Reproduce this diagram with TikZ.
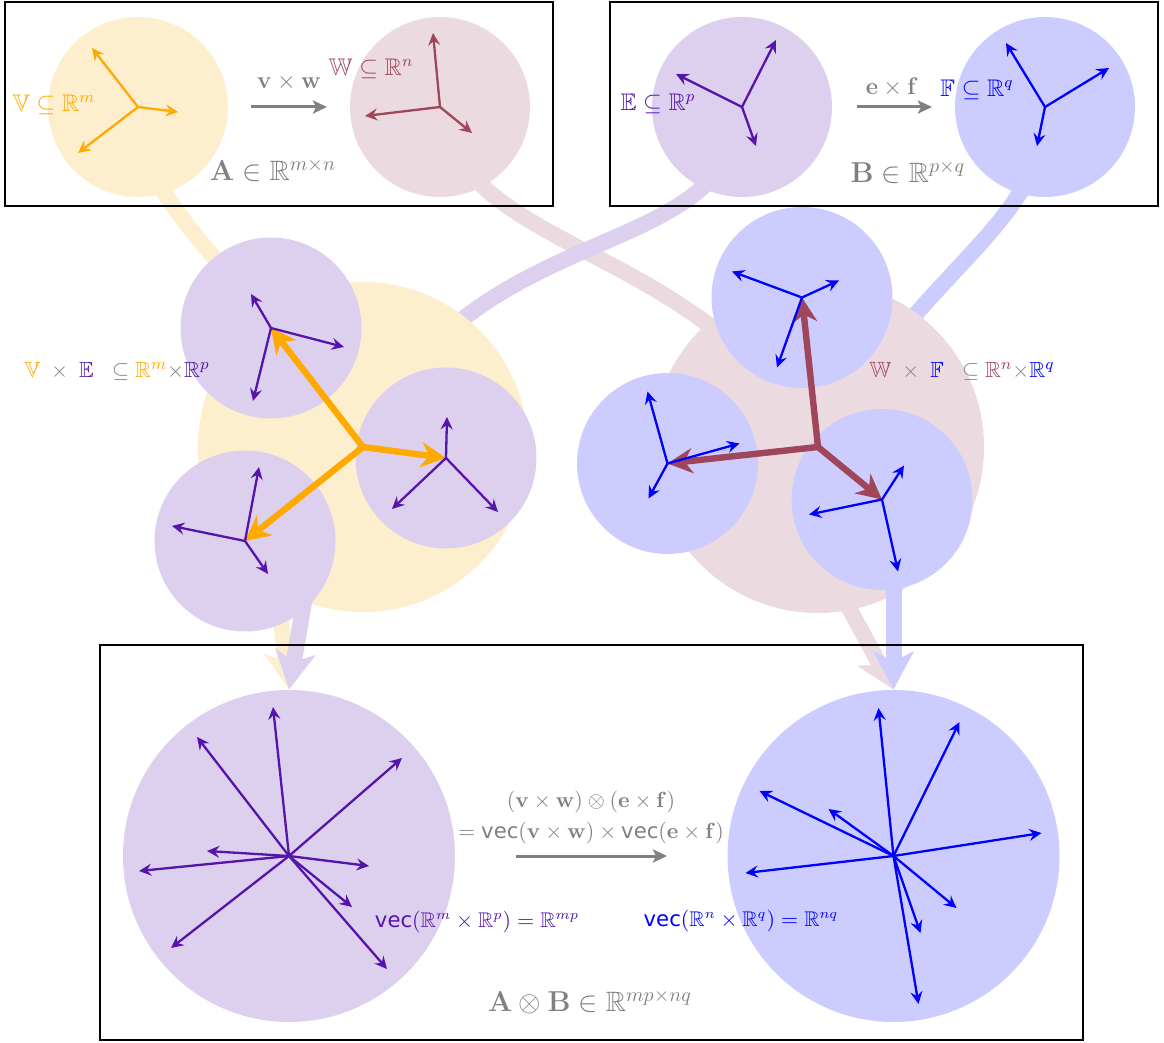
\documentclass[tikz,border=0pt]{standalone}
\usepackage{amsmath,amssymb}
\usepackage[no-math]{fontspec}
\setmainfont{DejaVu Sans}
\usetikzlibrary{arrows.meta}
\definecolor{cOr}{RGB}{255,170,0}
\definecolor{cOrL}{RGB}{253,239,206}
\definecolor{cMa}{RGB}{160,70,90}
\definecolor{cMaL}{RGB}{235,218,223}
\definecolor{cPu}{RGB}{85,20,170}
\definecolor{cPuL}{RGB}{221,208,238}
\definecolor{cBl}{RGB}{0,0,255}
\definecolor{cBlL}{RGB}{204,204,255}
\definecolor{cGr}{RGB}{128,128,128}
\pgfdeclarelayer{bands}
\pgfdeclarelayer{big}
\pgfdeclarelayer{down}
\pgfsetlayers{bands,big,down,main}
\begin{document}
\begin{tikzpicture}[x=0.5pt,y=-0.5pt,
  circ/.style={circle,inner sep=0pt,minimum size=#1},
  tarr/.style={line width=1.15pt,-{Stealth[length=6.2pt,width=6pt,inset=2.2pt]}},
  barr/.style={line width=3.2pt,-{Stealth[length=12.5pt,width=12.5pt,inset=4pt]}},
  band/.style={line width=8pt},
  darr/.style={line width=8pt,-{Stealth[length=19pt,width=20pt,inset=5pt]}},
  garr/.style={cGr,line width=1.5pt,-{Stealth[length=7pt,width=6.5pt,inset=1.5pt]}},
  lbl/.style={inner sep=0pt,font=\fontsize{12}{14}\selectfont},
  lblm/.style={inner sep=0pt,font=\fontsize{11}{13}\selectfont},
  lbls/.style={inner sep=0pt,font=\fontsize{10.6}{13}\selectfont},
  lblb/.style={inner sep=0pt,font=\fontsize{14}{16}\selectfont},
  frame/.style={draw=black,line width=0.6pt}]
\useasboundingbox (0,0) rectangle (1164,1043);

% ---------- big / top circles ----------
\begin{pgfonlayer}{big}
\node[circ=90pt,fill=cOrL] (V) at (138,107) {};
\node[circ=90pt,fill=cMaL] (W) at (440,107) {};
\node[circ=90pt,fill=cPuL] (E) at (742,107) {};
\node[circ=90pt,fill=cBlL] (F) at (1045,107) {};
\node[circ=165pt,fill=cOrL] (Y) at (363,447) {};
\node[circ=166pt,fill=cMaL] (M) at (818,447) {};
\end{pgfonlayer}

% ---------- small circles ----------
\node[circ=90.5pt,fill=cPuL] (P1) at (271,328) {};
\node[circ=90.5pt,fill=cPuL] (P2) at (446,458) {};
\node[circ=90.5pt,fill=cPuL] (P3) at (245,541) {};
\node[circ=90.5pt,fill=cBlL] (B1) at (802,297.5) {};
\node[circ=90.5pt,fill=cBlL] (B2) at (667.5,463.5) {};
\node[circ=90.5pt,fill=cBlL] (B3) at (882,499.5) {};
\node[circ=166pt,fill=cPuL] (PP) at (289,856) {};
\node[circ=166pt,fill=cBlL] (BB) at (893.5,856) {};

% ---------- bands ----------
\begin{pgfonlayer}{bands}
\draw[band,cOrL] (V.center) .. controls (145,215) and (215,235) .. (Y.center);
\draw[band,cMaL] (W.center) .. controls (460,255) and (700,240) .. (M.center);
\draw[band,cPuL] (E.center) .. controls (730,270) and (470,210) .. (Y.center);
\draw[band,cBlL] (F.center) .. controls (1045,225) and (930,260) .. (M.center);
\end{pgfonlayer}

% ---------- down arrows ----------
\coordinate (ys) at (272,545);
\coordinate (ps) at (313,550);
\coordinate (ms) at (820,555);
\coordinate (bs) at (893.5,560);
\begin{pgfonlayer}{down}
\draw[darr,cOrL] (ys) -- (PP.north);
\draw[darr,cPuL] (ps) -- (PP.north);
\draw[darr,cMaL] (ms) -- (BB.north);
\draw[darr,cBlL] (bs) -- (BB.north);
\end{pgfonlayer}

% ---------- thick arrows ----------
\draw[barr,cOr] (Y.center) -- (P1.center);
\draw[barr,cOr] (Y.center) -- (P2.center);
\draw[barr,cOr] (Y.center) -- (P3.center);
\draw[barr,cMa] (M.center) -- (B1.center);
\draw[barr,cMa] (M.center) -- (B2.center);
\draw[barr,cMa] (M.center) -- (B3.center);

% ---------- thin arrows ----------
\foreach \d in {(-46,-59),(40,5),(-60,46)} \draw[tarr,cOr] (V.center) -- ++\d;
\foreach \d in {(-7,-74),(-75,9),(32,26)} \draw[tarr,cMa] (W.center) -- ++\d;
\foreach \d in {(34,-67),(-66,-33),(14,39)} \draw[tarr,cPu] (E.center) -- ++\d;
\foreach \d in {(-39,-64),(64,-39),(-8,39)} \draw[tarr,cBl] (F.center) -- ++\d;
\foreach \d in {(-20,-34),(73,19),(-18,73)} \draw[tarr,cPu] (P1.center) -- ++\d;
\foreach \d in {(1,-41),(-54,51),(52,54)} \draw[tarr,cPu] (P2.center) -- ++\d;
\foreach \d in {(14,-74),(-73,-15),(23,33)} \draw[tarr,cPu] (P3.center) -- ++\d;
\foreach \d in {(-70,-26),(37,-17),(-25,70)} \draw[tarr,cBl] (B1.center) -- ++\d;
\foreach \d in {(-20,-72),(72,-20),(-19,35)} \draw[tarr,cBl] (B2.center) -- ++\d;
\foreach \d in {(22,-34),(-73,15),(16,72)} \draw[tarr,cBl] (B3.center) -- ++\d;
\foreach \d in {(-16,-149),(-92,-119),(113,-98),(-82,-5),(-150,15),(80,10),(63,51),(-118,92),(98,113)}
  \draw[tarr,cPu] (PP.center) -- ++\d;
\foreach \d in {(-15,-148),(66,-134),(-134,-65),(-65,-47),(148,-23),(-148,17),(63,52),(27,77),(25,148)}
  \draw[tarr,cBl] (BB.center) -- ++\d;

% ---------- labels: top ----------
\node[lbl,text=cOr] (lV) at (54,105) {$\mathbb{V}\subseteq\mathbb{R}^m$};
\node[lbl,text=cMa] (lW) at (371,69) {$\mathbb{W}\subseteq\mathbb{R}^n$};
\node[lbl,text=cGr] (lvw) at (289,83) {$\mathbf{v}\times\mathbf{w}$};
\coordinate (ga1) at (251,107); \coordinate (gb1) at (327,107);
\draw[garr] (ga1) -- (gb1);
\node[lblb,text=cGr] (lA) at (273,170) {$\mathbf{A}\in\mathbb{R}^{m\times n}$};

\node[lbl,text=cPu] (lE) at (658,104) {$\mathbb{E}\subseteq\mathbb{R}^p$};
\node[lbl,text=cBl] (lF) at (977,90) {$\mathbb{F}\subseteq\mathbb{R}^q$};
\node[lbl,text=cGr] (lef) at (892,87) {$\mathbf{e}\times\mathbf{f}$};
\coordinate (ga2) at (857,107); \coordinate (gb2) at (932,107);
\draw[garr] (ga2) -- (gb2);
\node[lblb,text=cGr] (lB) at (908,172) {$\mathbf{B}\in\mathbb{R}^{p\times q}$};

% ---------- labels: middle ----------
\node[lblm] (lVE) at (117,371) {$\color{cOr}\mathbb{V}\;\color{cGr}\times\;\color{cPu}\mathbb{E}\;\;\color{cGr}\subseteq\color{cOr}\mathbb{R}^m\color{cGr}{\times}\color{cPu}\mathbb{R}^p$};
\node[lblm] (lWF) at (962,371) {$\color{cMa}\mathbb{W}\;\color{cGr}\times\;\color{cBl}\mathbb{F}\;\;\color{cGr}\subseteq\color{cMa}\mathbb{R}^n\color{cGr}{\times}\color{cBl}\mathbb{R}^q$};

% ---------- labels: bottom ----------
\node[lblm,text=cGr] (lk1) at (591,802) {$(\mathbf{v}\times\mathbf{w})\otimes(\mathbf{e}\times\mathbf{f})$};
\node[lbls,text=cGr] (lk2) at (591,833) {$=\text{vec}(\mathbf{v}\times\mathbf{w})\times\text{vec}(\mathbf{e}\times\mathbf{f})$};
\coordinate (ga3) at (516,856); \coordinate (gb3) at (667,856);
\draw[garr] (ga3) -- (gb3);
\node[lbls,text=cPu] (lvp) at (477,922) {$\text{vec}(\mathbb{R}^m\times\mathbb{R}^p)=\mathbb{R}^{mp}$};
\node[lbls,text=cBl] (lvb) at (741,921) {$\text{vec}(\mathbb{R}^n\times\mathbb{R}^q)=\mathbb{R}^{nq}$};
\node[lblb,text=cGr] (lAB) at (590,1002) {$\mathbf{A}\otimes\mathbf{B}\in\mathbb{R}^{mp\times nq}$};

% ---------- frames ----------
\draw[frame] (5,2) rectangle (553,206);
\draw[frame] (610,2) rectangle (1158,206);
\draw[frame] (100,645) rectangle (1083,1040);
\end{tikzpicture}
\end{document}
